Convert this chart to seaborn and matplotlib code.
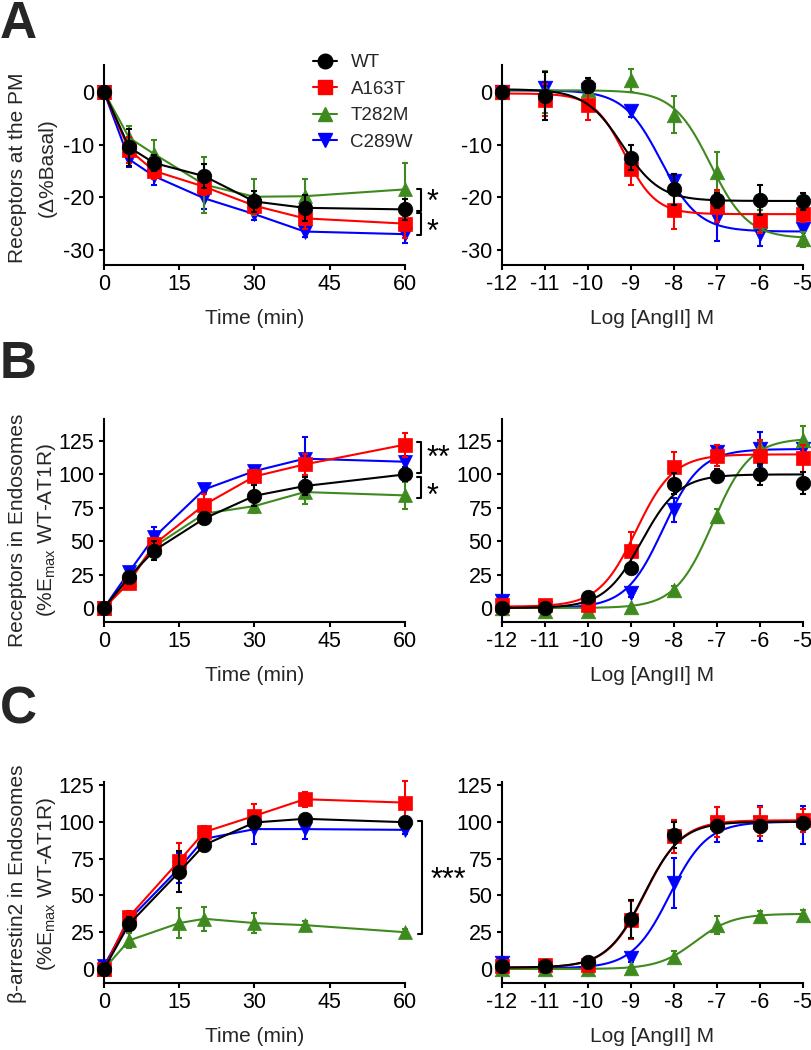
import numpy as np
import matplotlib
matplotlib.use("Agg")
import matplotlib.pyplot as plt
from matplotlib.lines import Line2D
import seaborn as sns

sns.set_theme(style="ticks")
plt.rcParams['font.family'] = ['Liberation Sans', 'DejaVu Sans']
plt.rcParams['axes.unicode_minus'] = False
plt.rcParams['mathtext.default'] = 'regular'

# ---------------- data ----------------
SERIES = ["WT", "A163T", "T282M", "C289W"]
DRAW_ORDER = ["C289W", "T282M", "A163T", "WT"]
COLORS = {"WT": "#000000", "A163T": "#ff0000", "T282M": "#3f8a1e", "C289W": "#0000ff"}
MARKERS = {"WT": "o", "A163T": "s", "T282M": "^", "C289W": "v"}

TIME_AB = [0, 5, 10, 20, 30, 40, 60]
TIME_C = [0, 5, 15, 20, 30, 40, 60]
LOG_DOSE = [-12, -11, -10, -9, -8, -7, -6, -5]

# Panel A, time course
A_time_mean = {"WT": [0, -10.5, -13.5, -16.0, -20.8, -22.0, -22.3],
               "A163T": [0, -11.0, -15.0, -18.0, -21.6, -24.0, -25.0],
               "T282M": [0, -8.7, -11.8, -17.6, -19.9, -19.8, -18.5],
               "C289W": [0, -12.8, -16.0, -20.2, -23.2, -26.5, -27.0]}
A_time_err = {"WT": [0, 3.5, 1.5, 2.3, 2.0, 2.5, 2.0],
              "A163T": [0, 2.5, 1.5, 1.5, 1.5, 2.0, 2.7],
              "T282M": [0, 2.3, 2.7, 5.3, 3.4, 3.3, 5.0],
              "C289W": [0, 1.5, 1.7, 2.0, 1.1, 1.0, 1.7]}
# Panel A, dose response
A_dose_mean = {"WT": [0, -0.8, 1.2, -12.5, -18.5, -20.6, -20.5, -20.8],
               "A163T": [0, -1.5, -2.4, -14.6, -22.5, -21.7, -24.3, -23.2],
               "T282M": [0, 0, 0.4, 2.2, -4.3, -15.2, -24.5, -28.0],
               "C289W": [0, 0.8, 0.4, -3.7, -17.0, -24.0, -27.0, -26.0]}
A_dose_err = {"WT": [0, 4.5, 1.5, 2.4, 3.0, 1.5, 2.8, 1.7],
              "A163T": [0, 3.0, 3.0, 3.0, 3.5, 3.0, 2.5, 1.5],
              "T282M": [0, 4.0, 1.0, 2.2, 3.5, 3.8, 2.0, 1.5],
              "C289W": [0, 1.0, 1.0, 1.0, 1.5, 4.3, 2.3, 1.5]}
# fitted sigmoid parameters (plateau at low dose, plateau at high dose, logEC50, Hill slope)
A_fit_low = {"WT": 0.5, "A163T": -0.3, "T282M": 0.3, "C289W": 0.3}
A_fit_high = {"WT": -20.7, "A163T": -23.2, "T282M": -27.8, "C289W": -26.5}
A_fit_logec50 = {"WT": -9.2, "A163T": -9.15, "T282M": -7.15, "C289W": -8.3}
A_fit_hill = {"WT": 1.0, "A163T": 1.2, "T282M": 1.0, "C289W": 1.0}

# Panel B, time course
B_time_mean = {"WT": [0, 23.2, 43.0, 67.0, 84.0, 91.3, 100.0],
               "A163T": [0, 19.0, 47.7, 77.3, 98.5, 107.5, 122.3],
               "T282M": [0, 22.0, 46.0, 70.6, 76.3, 86.8, 84.3],
               "C289W": [0, 27.0, 53.0, 88.8, 102.5, 111.8, 109.5]}
B_time_err = {"WT": [0, 3.0, 7.0, 4.0, 8.0, 7.0, 5.0],
              "A163T": [0, 3.0, 5.0, 8.0, 5.0, 8.0, 9.0],
              "T282M": [0, 3.0, 5.0, 4.0, 5.0, 9.0, 10.0],
              "C289W": [0, 3.0, 8.0, 3.0, 3.0, 16.0, 4.0]}
# Panel B, dose response
B_dose_mean = {"WT": [0, 0, 8.2, 30.0, 93.0, 99.0, 100.0, 93.6],
               "A163T": [2, 2, 2, 42.7, 105.5, 114.0, 114.0, 112.0],
               "T282M": [0, -2, -2, 0.7, 13.7, 69.0, 120.0, 126.0],
               "C289W": [5, 0, 0, 11.0, 73.6, 116.8, 119.0, 119.0]}
B_dose_err = {"WT": [1, 1, 2, 4, 8, 5, 8, 8],
              "A163T": [2, 2, 2, 14, 11, 8, 12, 10],
              "T282M": [1, 1, 1, 1, 3, 5, 5, 10],
              "C289W": [2, 1, 1, 3, 9, 5, 13, 3]}
B_fit_low = {"WT": 0.0, "A163T": 1.0, "T282M": 0.0, "C289W": 0.0}
B_fit_high = {"WT": 100.0, "A163T": 115.0, "T282M": 127.0, "C289W": 119.0}
B_fit_logec50 = {"WT": -8.75, "A163T": -8.88, "T282M": -7.1, "C289W": -8.25}
B_fit_hill = {"WT": 1.0, "A163T": 1.0, "T282M": 1.0, "C289W": 1.0}

# Panel C, time course
C_time_mean = {"WT": [0, 30.5, 66.0, 84.3, 99.5, 102.0, 99.7],
               "A163T": [0, 35.5, 73.5, 93.0, 104.0, 115.3, 113.0],
               "T282M": [0, 19.4, 31.2, 34.1, 31.2, 29.8, 25.0],
               "C289W": [2, 33.5, 68.5, 88.4, 95.0, 95.0, 94.5]}
C_time_err = {"WT": [2, 5, 14, 4, 3, 3, 3],
              "A163T": [2, 4, 12, 4, 8, 5, 15],
              "T282M": [2, 5, 10, 8, 7, 3, 2],
              "C289W": [3, 4, 10, 3, 10, 7, 3]}
# Panel C, dose response
C_dose_mean = {"WT": [2, 2, 4.5, 34.0, 91.0, 97.0, 97.2, 99.0],
               "A163T": [2, 2.5, 3, 33.5, 90.0, 99.7, 100.0, 101.0],
               "T282M": [0, 0, 0, 0.5, 8.1, 30.0, 36.2, 36.8],
               "C289W": [4, 1, 0, 7.5, 58.3, 98.0, 99.0, 98.0]}
C_dose_err = {"WT": [2, 1, 2, 13, 9, 4, 4, 4],
              "A163T": [3, 2, 2, 13, 11, 10, 10, 8],
              "T282M": [2, 1, 1, 1, 4, 6, 3, 3],
              "C289W": [4, 2, 2, 3, 17, 12, 12, 13]}
C_fit_low = {"WT": 1.0, "A163T": 1.0, "T282M": 0.0, "C289W": 0.5}
C_fit_high = {"WT": 100.0, "A163T": 101.0, "T282M": 37.5, "C289W": 100.0}
C_fit_logec50 = {"WT": -8.7, "A163T": -8.68, "T282M": -7.5, "C289W": -8.1}
C_fit_hill = {"WT": 1.0, "A163T": 1.0, "T282M": 1.0, "C289W": 1.0}

# ---------------- figure ----------------
W, H = 812, 1050
fig = plt.figure(figsize=(W / 100, H / 100), dpi=100)


def px_axes(x0, x1, y_top, y_bot):
    return fig.add_axes([x0 / W, 1 - y_bot / H, (x1 - x0) / W, (y_bot - y_top) / H])


LW = 1.5
MS = {"o": 10.5, "s": 9.5, "^": 10.5, "v": 10.5}
FS_TICK = 15.5
FS_LABEL = 15
FS_STAR = 22


def style_axes(ax, xlim, ylim, xticks, yticks, xlabel):
    ax.set_xlim(*xlim)
    ax.set_ylim(*ylim)
    ax.set_xticks(xticks)
    ax.set_yticks(yticks)
    ax.set_xticklabels([str(v) for v in xticks])
    ax.set_yticklabels([str(v) for v in yticks])
    sns.despine(ax=ax)
    for s in ["left", "bottom"]:
        ax.spines[s].set_linewidth(LW)
        ax.spines[s].set_color("black")
    ax.tick_params(direction="out", length=3.8, width=LW, labelsize=FS_TICK,
                   colors="black", pad=3.0)
    ax.set_xlabel(xlabel, fontsize=FS_LABEL, labelpad=10)
    ax.set_ylabel("")
    ax.set_facecolor("white")


def draw_time(ax, x, means, errs):
    for i, s in enumerate(DRAW_ORDER):
        c, m = COLORS[s], MARKERS[s]
        z = 3 + i * 3
        ax.errorbar(x, means[s], yerr=errs[s], fmt="none", ecolor=c, elinewidth=LW,
                    capsize=2.2, capthick=LW, clip_on=False, zorder=z)
        sns.lineplot(x=x, y=means[s], color=c, marker=m, markersize=MS[m],
                     markeredgecolor=c, markeredgewidth=0.5, linewidth=LW,
                     ax=ax, clip_on=False, zorder=z + 1, legend=False)


def draw_dose(ax, x, means, errs, low, high, logec50, hill):
    xs = np.linspace(-12, -5, 300)
    for i, s in enumerate(DRAW_ORDER):
        c, m = COLORS[s], MARKERS[s]
        z = 3 + i * 3
        ys = low[s] + (high[s] - low[s]) / (1 + 10 ** (hill[s] * (logec50[s] - xs)))
        ax.errorbar(x, means[s], yerr=errs[s], fmt="none", ecolor=c, elinewidth=LW,
                    capsize=2.2, capthick=LW, clip_on=False, zorder=z)
        sns.lineplot(x=xs, y=ys, color=c, linewidth=LW, ax=ax, zorder=z + 1,
                     legend=False, clip_on=False)
        sns.scatterplot(x=x, y=means[s], color=c, marker=m, s=MS[m] ** 2,
                        edgecolor=c, linewidth=0.5, ax=ax, clip_on=False,
                        zorder=z + 2, legend=False)


def bracket(ax, y1, y2, x_in=62.4, x_out=63.2):
    ax.plot([x_in, x_out, x_out, x_in], [y1, y1, y2, y2], color="black", lw=LW,
            clip_on=False, zorder=20)


def stars(ax, text, x, y_last, linespacing=1.0):
    # va="baseline" aligns the baseline of the last line; the asterisk glyph
    # sits ~0.57 em above the baseline, so shift down to centre it on y_last
    ax.annotate(text, xy=(x, y_last), xytext=(0, -12.5),
                textcoords="offset points", ha="left", va="baseline",
                multialignment="left", linespacing=linespacing,
                fontsize=FS_STAR, color="black", annotation_clip=False)


LX0, LX1 = 104, 405
RX0, RX1 = 502, 803
XT_TIME = [0, 15, 30, 45, 60]

# ---- Panel A ----
axA1 = px_axes(LX0, LX1, 65, 265)
draw_time(axA1, TIME_AB, A_time_mean, A_time_err)
style_axes(axA1, (0, 60), (-32.85, 5.1), XT_TIME, [0, -10, -20, -30], "Time (min)")
bracket(axA1, -18.5, -22.6)
bracket(axA1, -23.0, -27.1)
stars(axA1, "*\n*", 64.2, -25.05, linespacing=1.03)

axA2 = px_axes(RX0, RX1, 65, 265)
draw_dose(axA2, LOG_DOSE, A_dose_mean, A_dose_err, A_fit_low, A_fit_high,
          A_fit_logec50, A_fit_hill)
style_axes(axA2, (-12, -5), (-32.85, 5.1), LOG_DOSE, [0, -10, -20, -30], "Log [AngII] M")

# ---- Panel B ----
axB1 = px_axes(LX0, LX1, 419, 622)
draw_time(axB1, TIME_AB, B_time_mean, B_time_err)
style_axes(axB1, (0, 60), (-10.5, 141.5), XT_TIME, [0, 25, 50, 75, 100, 125], "Time (min)")
bracket(axB1, 124, 101)
bracket(axB1, 98, 82)
stars(axB1, "**\n*", 64.2, 90.0, linespacing=1.34)

axB2 = px_axes(RX0, RX1, 419, 622)
draw_dose(axB2, LOG_DOSE, B_dose_mean, B_dose_err, B_fit_low, B_fit_high,
          B_fit_logec50, B_fit_hill)
style_axes(axB2, (-12, -5), (-10.5, 141.5), LOG_DOSE, [0, 25, 50, 75, 100, 125], "Log [AngII] M")

# ---- Panel C ----
axC1 = px_axes(LX0, LX1, 782, 983)
draw_time(axC1, TIME_C, C_time_mean, C_time_err)
style_axes(axC1, (0, 60), (-9.5, 127), XT_TIME, [0, 25, 50, 75, 100, 125], "Time (min)")
bracket(axC1, 100.5, 23.5, x_in=62.6, x_out=63.4)
stars(axC1, "***", 65.0, 66.0)

axC2 = px_axes(RX0, RX1, 782, 983)
draw_dose(axC2, LOG_DOSE, C_dose_mean, C_dose_err, C_fit_low, C_fit_high,
          C_fit_logec50, C_fit_hill)
style_axes(axC2, (-12, -5), (-9.5, 127), LOG_DOSE, [0, 25, 50, 75, 100, 125], "Log [AngII] M")

# ---- y labels (two lines each) ----
def ylab(line1, line2, yc, x1=18, x2=47):
    fig.text(x1 / W, 1 - yc / H, line1, rotation=90, ha="center", va="center",
             fontsize=FS_LABEL)
    fig.text(x2 / W, 1 - yc / H, line2, rotation=90, ha="center", va="center",
             fontsize=FS_LABEL)


ylab("Receptors at the PM", "(Δ%Basal)", 168)
ylab("Receptors in Endosomes", "(%E$_{max}$ WT-AT1R)", 530)
ylab("β-arrestin2 in Endosomes", "(%E$_{max}$ WT-AT1R)", 884)

# ---- panel letters ----
for letter, base in [("A", 38), ("B", 378), ("C", 724)]:
    fig.text(0 / W, 1 - base / H, letter, fontsize=37, fontweight="bold",
             ha="left", va="baseline")

# ---- legend ----
handles = [Line2D([0], [0], color=COLORS[s], marker=MARKERS[s], markersize=MS[MARKERS[s]],
                  markeredgecolor=COLORS[s], linewidth=LW) for s in SERIES]
fig.legend(handles, SERIES, loc="upper left", bbox_to_anchor=(313 / W, 1 - 54 / H),
           frameon=False, fontsize=13.5, handlelength=1.3, handletextpad=0.7,
           labelspacing=0.5, borderpad=0, borderaxespad=0)

fig.savefig("out.png", dpi=100, facecolor="white")
